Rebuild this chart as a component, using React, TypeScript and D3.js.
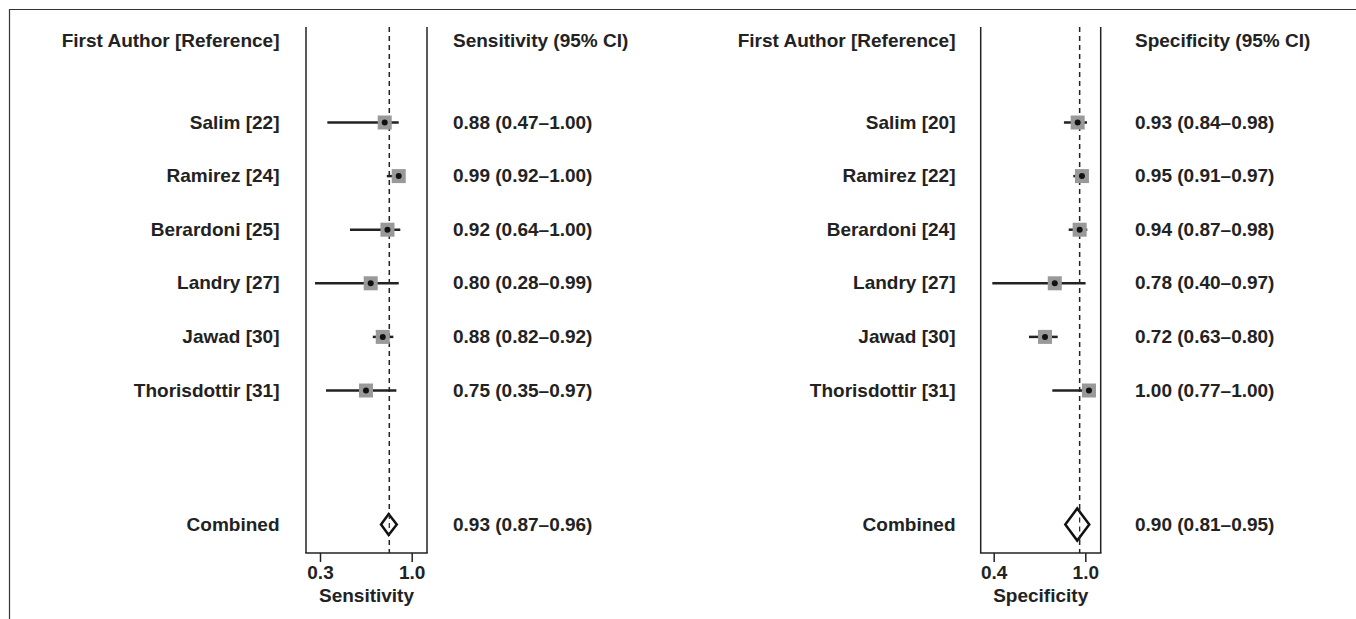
import React, { useEffect, useRef } from 'react';
import * as d3 from 'd3';

// study labels for each panel
const sensStudies = ["Salim [22]", "Ramirez [24]", "Berardoni [25]", "Landry [27]", "Jawad [30]", "Thorisdottir [31]"];
const specStudies = ["Salim [20]", "Ramirez [22]", "Berardoni [24]", "Landry [27]", "Jawad [30]", "Thorisdottir [31]"];

// text column values
const sensText = ["0.88 (0.47–1.00)", "0.99 (0.92–1.00)", "0.92 (0.64–1.00)", "0.80 (0.28–0.99)", "0.88 (0.82–0.92)", "0.75 (0.35–0.97)"];
const specText = ["0.93 (0.84–0.98)", "0.95 (0.91–0.97)", "0.94 (0.87–0.98)", "0.78 (0.40–0.97)", "0.72 (0.63–0.80)", "1.00 (0.77–1.00)"];
const sensCombinedText = "0.93 (0.87–0.96)";
const specCombinedText = "0.90 (0.81–0.95)";

// plotted positions as read against each panel's axis
const sensEst = [0.794, 0.901, 0.815, 0.687, 0.779, 0.651];
const sensLo = [0.356, 0.810, 0.529, 0.262, 0.703, 0.346];
const sensHi = [0.901, 0.905, 0.913, 0.901, 0.860, 0.883];
const sensCombined = [0.766, 0.824, 0.886];
const sensRef = 0.829;

const specEst = [0.950, 0.978, 0.963, 0.800, 0.736, 1.024];
const specLo = [0.860, 0.921, 0.891, 0.391, 0.631, 0.784];
const specHi = [1.011, 0.980, 1.013, 1.002, 0.819, 1.024];
const specCombined = [0.869, 0.947, 1.026];
const specRef = 0.963;

const sensTicks = [0.3, 1.0];
const specTicks = [0.4, 1.0];

const FONT = "'Liberation Sans', Arial, Helvetica, sans-serif";
const INK = "#222";

const App = () => {
  const ref = useRef<SVGSVGElement>(null);

  useEffect(() => {
    if (ref.current) draw();
  }, []);

  const draw = () => {
    const svg = d3.select(ref.current);
    svg.selectAll("*").remove();

    // outer frame (top and left only)
    svg.append("line").attr("x1", 9).attr("x2", 1356).attr("y1", 9.5).attr("y2", 9.5)
      .attr("stroke", "#333").attr("stroke-width", 1.2);
    svg.append("line").attr("x1", 9.5).attr("x2", 9.5).attr("y1", 9).attr("y2", 619)
      .attr("stroke", "#333").attr("stroke-width", 1.2);

    const y = d3.scaleLinear().domain([0, 5]).range([122.5, 390.5]);
    const combinedIdx = 7.5;
    const panelTop = 27;
    const panelBottom = 553;

    const panel = (opts: {
      labelRight: number; textLeft: number; left: number; right: number;
      domain: number[]; range: number[]; ticks: number[];
      studies: string[]; text: string[]; est: number[]; lo: number[]; hi: number[];
      combined: number[]; combinedText: string; ref: number; header: string; title: string;
    }) => {
      const x = d3.scaleLinear().domain(opts.domain).range(opts.range);
      const g = svg.append("g");

      const txt = (tx: number, ty: number, s: string, anchor: string) =>
        g.append("text").attr("x", tx).attr("y", ty).attr("text-anchor", anchor)
          .attr("font-family", FONT).attr("font-weight", "bold").attr("font-size", 19)
          .attr("fill", INK).text(s);

      // headers
      txt(opts.labelRight, 46.5, "First Author [Reference]", "end");
      txt(opts.textLeft, 46.5, opts.header, "start");

      // study labels and values
      opts.studies.forEach((s, i) => {
        txt(opts.labelRight, y(i) + 6, s, "end");
        txt(opts.textLeft, y(i) + 6, opts.text[i], "start");
      });
      txt(opts.labelRight, y(combinedIdx) + 6, "Combined", "end");
      txt(opts.textLeft, y(combinedIdx) + 6, opts.combinedText, "start");

      // panel frame
      g.append("line").attr("x1", opts.left).attr("x2", opts.left).attr("y1", panelTop).attr("y2", panelBottom)
        .attr("stroke", INK).attr("stroke-width", 1.5);
      g.append("line").attr("x1", opts.right).attr("x2", opts.right).attr("y1", panelTop).attr("y2", panelBottom)
        .attr("stroke", INK).attr("stroke-width", 1.5);
      g.append("line").attr("x1", opts.left - 0.75).attr("x2", opts.right + 0.75).attr("y1", panelBottom).attr("y2", panelBottom)
        .attr("stroke", INK).attr("stroke-width", 1.5);

      // axis ticks
      const axis = g.append("g").attr("transform", `translate(0,${panelBottom})`)
        .call(d3.axisBottom(x).tickValues(opts.ticks).tickSize(9).tickFormat(d3.format(".1f")));
      axis.select(".domain").remove();
      axis.selectAll("line").attr("stroke", INK).attr("stroke-width", 1.5);
      axis.selectAll("text").attr("font-family", FONT).attr("font-weight", "bold")
        .attr("font-size", 19).attr("fill", INK).attr("y", 13).attr("dy", "0.71em");

      g.append("text").attr("x", (opts.left + opts.right) / 2).attr("y", 602)
        .attr("text-anchor", "middle").attr("font-family", FONT).attr("font-weight", "bold")
        .attr("font-size", 19).attr("fill", INK).text(opts.title);

      // reference dashed line
      g.append("line").attr("x1", x(opts.ref)).attr("x2", x(opts.ref)).attr("y1", panelTop).attr("y2", panelBottom)
        .attr("stroke", INK).attr("stroke-width", 1.5).attr("stroke-dasharray", "5,4");

      // CI lines
      opts.est.forEach((e, i) => {
        g.append("line").attr("x1", x(opts.lo[i])).attr("x2", x(opts.hi[i])).attr("y1", y(i)).attr("y2", y(i))
          .attr("stroke", INK).attr("stroke-width", 2.5);
        g.append("rect").attr("x", x(e) - 7).attr("y", y(i) - 7).attr("width", 14).attr("height", 14)
          .attr("fill", "#999");
        g.append("circle").attr("cx", x(e)).attr("cy", y(i)).attr("r", 3).attr("fill", "#111");
      });

      // combined diamond
      const [cl, ce, ch] = opts.combined;
      const half = (x(ch) - x(cl)) * 0.67;
      const cy = y(combinedIdx);
      g.append("path")
        .attr("d", `M${x(cl)},${cy} L${x(ce)},${cy - half} L${x(ch)},${cy} L${x(ce)},${cy + half} Z`)
        .attr("fill", "white").attr("stroke", "#111").attr("stroke-width", 2.5).attr("stroke-linejoin", "miter");
      // dashed line passes through the diamond
      g.append("line").attr("x1", x(opts.ref)).attr("x2", x(opts.ref)).attr("y1", cy - half).attr("y2", cy + half)
        .attr("stroke", INK).attr("stroke-width", 1.2).attr("stroke-dasharray", "5,4");
    };

    panel({
      labelRight: 279.5, textLeft: 453, left: 306, right: 427,
      domain: [0.3, 1.0], range: [320, 411.7], ticks: sensTicks,
      studies: sensStudies, text: sensText, est: sensEst, lo: sensLo, hi: sensHi,
      combined: sensCombined, combinedText: sensCombinedText, ref: sensRef,
      header: "Sensitivity (95% CI)", title: "Sensitivity",
    });
    panel({
      labelRight: 955.5, textLeft: 1135, left: 980.7, right: 1100.7,
      domain: [0.4, 1.0], range: [993.7, 1085.3], ticks: specTicks,
      studies: specStudies, text: specText, est: specEst, lo: specLo, hi: specHi,
      combined: specCombined, combinedText: specCombinedText, ref: specRef,
      header: "Specificity (95% CI)", title: "Specificity",
    });
  };

  return (
    <svg ref={ref} width={1356} height={619}
      style={{ position: "absolute", left: 0, top: 0, background: "white" }} />
  );
};

export default App;
